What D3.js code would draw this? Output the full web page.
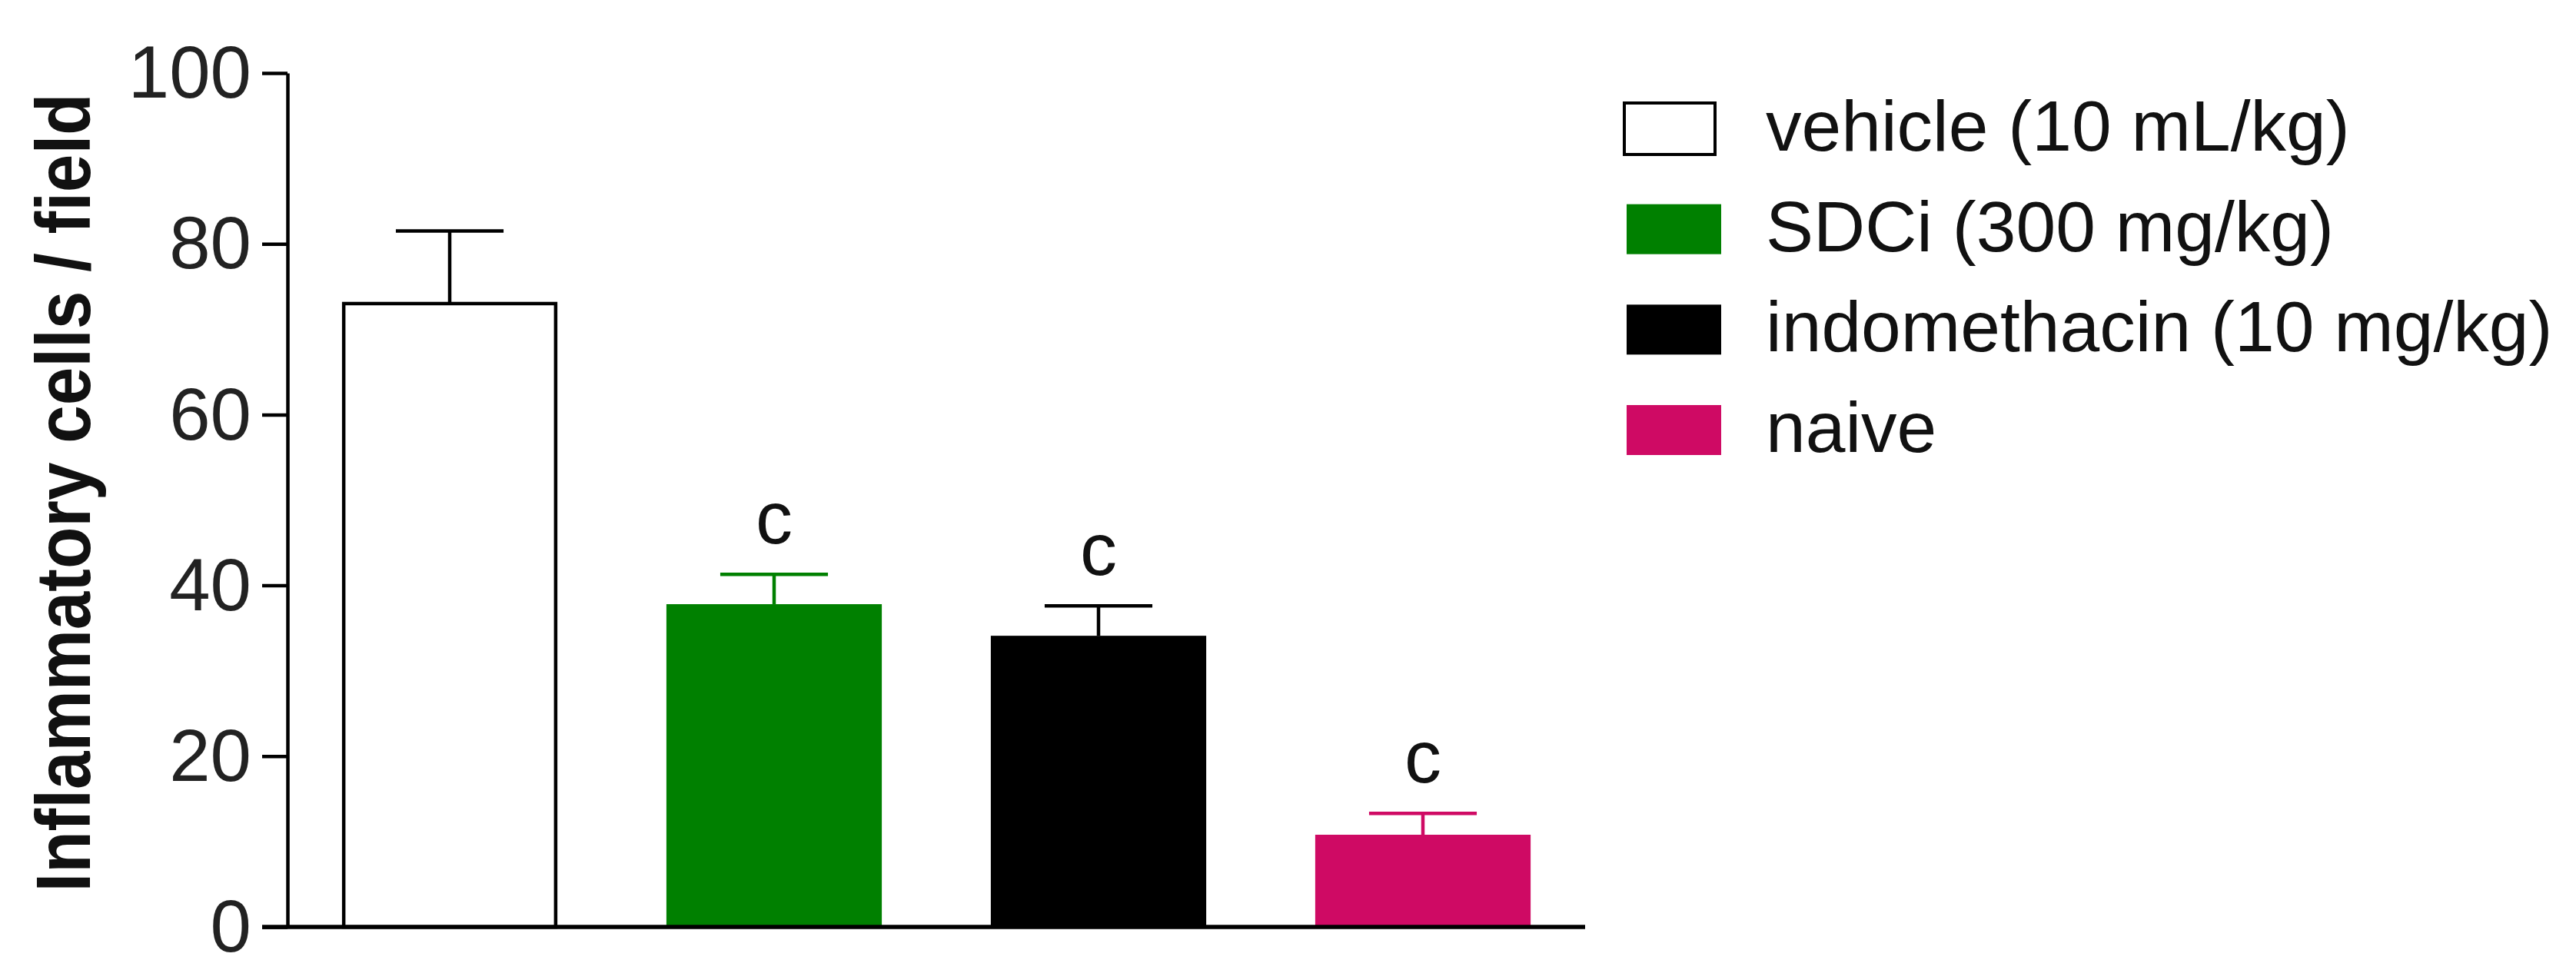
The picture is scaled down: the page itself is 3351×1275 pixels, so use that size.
<!DOCTYPE html>
<html>
<head>
<meta charset="utf-8">
<script src="https://cdn.jsdelivr.net/npm/d3@7"></script>
<style>
  html, body { margin: 0; padding: 0; background: #ffffff; }
  svg { display: block; }
  text { font-family: "Liberation Sans", Arial, Helvetica, sans-serif; }
</style>
</head>
<body>
<svg id="chart" width="3351" height="1275"></svg>
<script>
// ---- data ----
const categories = ["vehicle (10 mL/kg)", "SDCi (300 mg/kg)", "indomethacin (10 mg/kg)", "naive"];
const means = [73.0, 37.8, 34.1, 10.8];
const sems = [8.5, 3.5, 3.5, 2.5];
const sigLabels = ["", "c", "c", "c"];
const yTicks = [0, 20, 40, 60, 80, 100];
const colors = ["#ffffff", "#008000", "#000000", "#cf0a64"];
const yTitle = "Inflammatory cells / field";

// ---- layout ----
const svg = d3.select("#chart");
const axisColor = "#000000";
const sw = 4.5;

const y = d3.scaleLinear().domain([0, 100]).range([1206, 95]);
const x = d3.scaleBand().domain(categories).range([374, 2062])
  .paddingInner(0.336).paddingOuter(0.168);
const color = d3.scaleOrdinal().domain(categories).range(colors);
const strokeColor = d3.scaleOrdinal().domain(categories)
  .range(["#000000", "#008000", "#000000", "#cf0a64"]);

const data = categories.map((c, i) => ({ c, m: means[i], e: sems[i], s: sigLabels[i] }));

// bars
const bars = svg.append("g");
bars.selectAll("rect").data(data).join("rect")
  .attr("x", d => d.c === categories[0] ? x(d.c) + sw / 2 : x(d.c))
  .attr("width", d => d.c === categories[0] ? x.bandwidth() - sw : x.bandwidth())
  .attr("y", d => y(d.m))
  .attr("height", d => y(0) - y(d.m))
  .attr("fill", d => color(d.c))
  .attr("stroke", d => d.c === categories[0] ? "#000" : "none")
  .attr("stroke-width", sw);

// error bars
const capW = x.bandwidth() * 0.5;
const eb = svg.append("g");
eb.selectAll("line.v").data(data).join("line").attr("class", "v")
  .attr("x1", d => x(d.c) + x.bandwidth() / 2)
  .attr("x2", d => x(d.c) + x.bandwidth() / 2)
  .attr("y1", d => y(d.m))
  .attr("y2", d => y(d.m + d.e))
  .attr("stroke", d => strokeColor(d.c)).attr("stroke-width", sw);
eb.selectAll("line.cap").data(data).join("line").attr("class", "cap")
  .attr("x1", d => x(d.c) + x.bandwidth() / 2 - capW / 2)
  .attr("x2", d => x(d.c) + x.bandwidth() / 2 + capW / 2)
  .attr("y1", d => y(d.m + d.e))
  .attr("y2", d => y(d.m + d.e))
  .attr("stroke", d => strokeColor(d.c)).attr("stroke-width", sw);

// significance letters
svg.append("g").selectAll("text").data(data.filter(d => d.s)).join("text")
  .attr("x", d => x(d.c) + x.bandwidth() / 2)
  .attr("y", d => y(d.m + d.e) - 40)
  .attr("text-anchor", "middle")
  .attr("font-size", 96)
  .attr("fill", "#111")
  .text(d => d.s);

// y axis
const yAxis = d3.axisLeft(y).tickValues(yTicks).tickSize(33).tickSizeOuter(0).tickPadding(14);
const gy = svg.append("g").attr("transform", "translate(374,0)").call(yAxis);
gy.select(".domain").attr("stroke", axisColor).attr("stroke-width", sw);
gy.selectAll(".tick line").attr("stroke", axisColor).attr("stroke-width", sw);
gy.selectAll(".tick text")
  .attr("font-size", 96)
  .attr("font-family", "\"Liberation Sans\", Arial, sans-serif")
  .attr("fill", "#222")
  .attr("dy", "0.33em");

// x axis line
svg.append("line")
  .attr("x1", x.range()[0] - 33).attr("x2", x.range()[1])
  .attr("y1", y(0)).attr("y2", y(0))
  .attr("stroke", axisColor).attr("stroke-width", 5.5);

// y title
svg.append("text")
  .attr("transform", "translate(117,641) rotate(-90)")
  .attr("text-anchor", "middle")
  .attr("font-size", 100)
  .attr("font-weight", "bold")
  .attr("textLength", 1039)
  .attr("lengthAdjust", "spacingAndGlyphs")
  .attr("fill", "#111")
  .text(yTitle);

// legend
const ly = d3.scaleLinear().domain([0, categories.length - 1]).range([167, 559]);
const lg = svg.append("g");
const rows = lg.selectAll("g").data(categories).join("g")
  .attr("transform", (d, i) => `translate(0,${ly(i)})`);
rows.append("rect")
  .attr("x", d => d === categories[0] ? 2113 : 2116)
  .attr("y", d => d === categories[0] ? -33 : -32)
  .attr("width", d => d === categories[0] ? 118 : 123)
  .attr("height", d => d === categories[0] ? 67 : 65)
  .attr("fill", d => color(d))
  .attr("stroke", d => d === categories[0] ? "#000" : "none")
  .attr("stroke-width", 4);
rows.append("text")
  .attr("x", 2297)
  .attr("y", 29)
  .attr("font-size", 93)
  .attr("fill", "#111")
  .text(d => d);
</script>
</body>
</html>
